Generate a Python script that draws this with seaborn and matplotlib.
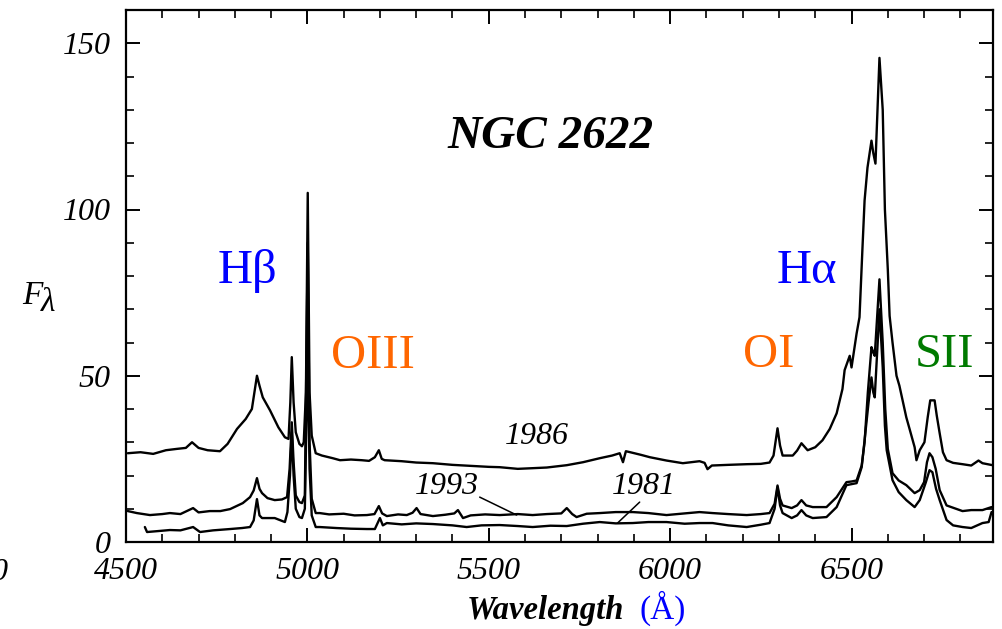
import numpy as np
import pandas as pd
import matplotlib
matplotlib.use("Agg")
import matplotlib.pyplot as plt
import seaborn as sns
from matplotlib.ticker import MultipleLocator

# ---------------- data ----------------
wl_1986 = [4505, 4540, 4575, 4610, 4640, 4665, 4682, 4700, 4725, 4759, 4780, 4806, 4830, 4847,
           4861, 4868, 4877, 4897, 4920, 4938, 4948, 4953, 4957, 4962, 4968, 4978, 4985, 4990,
           4996, 5001, 5006, 5012, 5023, 5040, 5070, 5090, 5120, 5150, 5170, 5186, 5197, 5205,
           5213, 5260, 5300, 5346, 5400, 5450, 5500, 5530, 5580, 5621, 5660, 5715, 5760, 5806,
           5840, 5861, 5870, 5878, 5890, 5920, 5944, 5990, 6035, 6081, 6095, 6103, 6115, 6160,
           6211, 6250, 6274, 6285, 6296, 6303, 6310, 6338, 6350, 6362, 6379, 6400, 6420, 6440,
           6459, 6475, 6481, 6495, 6500, 6514, 6522, 6530, 6536, 6544, 6555, 6560, 6566, 6577,
           6586, 6592, 6600, 6605, 6613, 6624, 6632, 6651, 6660, 6674, 6679, 6688, 6701, 6710,
           6717, 6729, 6735, 6743, 6752, 6762, 6780, 6806, 6830, 6850, 6861, 6889]
fx_1986 = [26.7, 27.0, 26.5, 27.6, 28.0, 28.3, 30.0, 28.3, 27.6, 27.3, 29.5, 34.0, 37.0, 40.0,
           50.0, 47.0, 43.5, 39.6, 34.5, 31.5, 31.0, 42.0, 55.6, 42.0, 33.0, 29.5, 28.8, 30.0,
           45.0, 105.0, 45.0, 32.0, 26.7, 26.0, 25.2, 24.6, 24.8, 24.6, 24.4, 25.5, 27.6, 25.0,
           24.6, 24.3, 23.9, 23.7, 23.2, 22.9, 22.6, 22.5, 22.0, 22.2, 22.4, 23.1, 24.0, 25.2,
           26.0, 26.7, 24.0, 27.3, 27.0, 26.2, 25.5, 24.5, 23.7, 24.3, 23.8, 21.9, 23.0, 23.2,
           23.4, 23.5, 23.9, 26.0, 34.2, 29.0, 26.0, 26.0, 27.5, 29.7, 27.6, 28.5, 30.6, 34.0,
           38.7, 46.0, 51.7, 56.0, 52.5, 62.7, 67.6, 88.0, 102.7, 112.6, 120.7, 117.0, 113.8, 145.6,
           130.0, 100.0, 82.0, 68.0, 60.0, 50.0, 47.0, 37.5, 34.0, 28.5, 24.6, 27.6, 30.0, 37.5,
           42.6, 42.6, 38.0, 32.7, 27.0, 24.6, 23.8, 23.4, 23.0, 24.5, 23.7, 23.1]

wl_1993 = [4505, 4530, 4566, 4600, 4621, 4650, 4685, 4700, 4731, 4760, 4787, 4822, 4842, 4852,
           4861, 4868, 4875, 4890, 4910, 4930, 4944, 4951, 4957, 4962, 4968, 4978, 4985, 4993,
           5001, 5006, 5012, 5023, 5034, 5060, 5100, 5130, 5164, 5185, 5197, 5206, 5219, 5250,
           5274, 5290, 5301, 5312, 5346, 5380, 5405, 5415, 5429, 5450, 5490, 5530, 5580, 5621,
           5660, 5700, 5715, 5730, 5742, 5770, 5806, 5850, 5897, 5940, 5990, 6040, 6081, 6117,
           6160, 6211, 6250, 6274, 6288, 6296, 6303, 6310, 6335, 6350, 6362, 6375, 6393, 6431,
           6459, 6486, 6500, 6514, 6528, 6536, 6545, 6555, 6560, 6564, 6577, 6586, 6593, 6600,
           6613, 6630, 6651, 6674, 6688, 6700, 6708, 6715, 6723, 6732, 6743, 6762, 6806, 6830,
           6861, 6886]
fx_1993 = [9.3, 8.7, 8.1, 8.4, 8.7, 8.4, 10.2, 8.9, 9.3, 9.3, 9.9, 11.7, 13.5, 15.5,
           19.2, 16.0, 14.7, 13.2, 12.6, 12.8, 13.5, 22.0, 36.0, 24.0, 14.0, 12.0, 11.7, 14.0,
           90.0, 30.0, 13.0, 8.7, 8.7, 8.3, 8.5, 8.0, 8.1, 8.4, 10.8, 8.6, 7.8, 8.3,
           8.1, 8.8, 10.2, 8.4, 7.8, 8.2, 8.6, 9.6, 7.2, 8.0, 8.3, 8.1, 8.4, 8.1,
           8.4, 8.6, 10.2, 8.4, 7.5, 8.5, 8.7, 9.0, 9.0, 8.7, 8.1, 8.6, 9.0, 8.7,
           8.4, 8.1, 8.4, 8.7, 11.5, 17.0, 13.0, 11.0, 10.2, 11.0, 12.6, 11.0, 10.5, 10.5,
           13.5, 18.0, 18.2, 18.5, 23.0, 30.0, 45.0, 58.6, 57.0, 56.0, 79.0, 60.0, 40.0, 28.0,
           20.7, 18.5, 17.1, 14.7, 15.6, 18.0, 24.0, 26.7, 25.5, 22.0, 15.6, 11.0, 9.3, 9.6,
           9.6, 10.5]

wl_1981 = [4552, 4558, 4590, 4621, 4650, 4685, 4704, 4740, 4787, 4820, 4842, 4852, 4861, 4868,
           4875, 4910, 4938, 4945, 4952, 4957, 4962, 4968, 4978, 4985, 4993, 5001, 5006, 5012,
           5023, 5034, 5080, 5120, 5164, 5186, 5200, 5208, 5219, 5260, 5300, 5346, 5400, 5439,
           5480, 5530, 5580, 5621, 5670, 5715, 5760, 5806, 5850, 5897, 5940, 5990, 6040, 6081,
           6117, 6160, 6211, 6250, 6274, 6288, 6296, 6303, 6310, 6335, 6350, 6362, 6375, 6393,
           6431, 6459, 6486, 6500, 6514, 6528, 6536, 6547, 6555, 6560, 6564, 6577, 6586, 6592,
           6597, 6613, 6630, 6651, 6674, 6688, 6705, 6715, 6723, 6733, 6743, 6762, 6780, 6806,
           6830, 6861, 6878, 6886]
fx_1981 = [4.5, 3.0, 3.3, 3.6, 3.5, 4.5, 3.0, 3.5, 3.9, 4.2, 4.5, 6.5, 12.9, 8.0,
           7.2, 7.2, 6.0, 9.0, 20.0, 33.0, 20.0, 10.0, 7.5, 7.2, 10.0, 58.0, 22.0, 8.0,
           4.5, 4.5, 4.2, 4.0, 3.9, 3.9, 7.2, 5.0, 5.7, 5.3, 5.6, 5.4, 5.0, 4.5,
           5.0, 5.1, 4.8, 4.5, 4.9, 4.8, 5.5, 6.0, 5.6, 5.7, 6.0, 6.0, 5.5, 5.7,
           5.7, 5.0, 4.5, 5.2, 5.7, 10.0, 16.5, 11.0, 8.7, 7.2, 8.0, 9.6, 8.0, 7.2,
           7.5, 10.5, 17.1, 17.4, 17.7, 22.5, 30.6, 42.0, 49.5, 45.0, 43.5, 70.0, 52.5, 35.0,
           27.6, 18.6, 15.0, 12.6, 10.5, 12.6, 18.0, 21.6, 21.0, 16.0, 12.6, 6.6, 5.0, 4.5,
           4.2, 5.7, 6.0, 9.0]

xticks = [4500, 5000, 5500, 6000, 6500]
xtick_labels = ["4500", "5000", "5500", "6000", "6500"]
yticks = [0, 50, 100, 150]
ytick_labels = ["0", "50", "100", "150"]

line_names = ["Hβ", "OIII", "OI", "Hα", "SII"]
line_wl = [4836, 5180, 6271, 6376, 6756]
line_fx = [77.8, 52.3, 52.5, 77.8, 52.5]
line_colors = ["#0000ff", "#ff6600", "#ff6600", "#0000ff", "#007a00"]

year_names = ["1986", "1993", "1981"]
year_wl = [5632, 5384, 5927]
year_fx = [31.8, 16.8, 16.8]
# leader lines for 1993 and 1981 (from label to spectrum)
lead_1993_wl = [5475, 5577]
lead_1993_fx = [13.5, 8.1]
lead_1981_wl = [5916, 5855]
lead_1981_fx = [12.0, 5.7]

# ---------------- plotting ----------------
sns.set_theme(style="ticks")
plt.rcParams['font.family'] = ['Liberation Serif', 'DejaVu Serif']
plt.rcParams['axes.linewidth'] = 1.6
plt.rcParams['text.color'] = 'black'
plt.rcParams['xtick.color'] = 'black'
plt.rcParams['ytick.color'] = 'black'
plt.rcParams['xtick.labelcolor'] = 'black'
plt.rcParams['ytick.labelcolor'] = 'black'

W, H = 1002, 629
fig = plt.figure(figsize=(W / 100, H / 100), dpi=100)
ax = fig.add_axes([126 / W, 1 - 542 / H, (993 - 126) / W, (542 - 10) / H])
ax.set_facecolor("white")

for wl, fx in [(wl_1986, fx_1986), (wl_1993, fx_1993), (wl_1981, fx_1981)]:
    df = pd.DataFrame({"wl": wl, "flux": fx})
    sns.lineplot(data=df, x="wl", y="flux", ax=ax, color="black", lw=1.7,
                 estimator=None, sort=True)

sns.lineplot(x=lead_1993_wl, y=lead_1993_fx, ax=ax, color="black", lw=1.1, estimator=None)
sns.lineplot(x=lead_1981_wl, y=lead_1981_fx, ax=ax, color="black", lw=1.1, estimator=None)

ax.set_xlim(4500, 6890)
ax.set_ylim(0, 160)
ax.set_xlabel("")
ax.set_ylabel("")

ax.set_xticks(xticks)
ax.set_xticklabels(xtick_labels, fontsize=23, fontstyle="italic", color="black")
ax.set_yticks(yticks)
ax.set_yticklabels(ytick_labels, fontsize=23, fontstyle="italic", color="black")
ax.xaxis.set_minor_locator(MultipleLocator(100))
ax.yaxis.set_minor_locator(MultipleLocator(10))
ax.tick_params(which="major", direction="in", top=True, right=True, length=10, width=1.4,
               pad=11, colors="black")
ax.tick_params(which="minor", direction="in", top=True, right=True, length=6, width=1.2,
               colors="black")
for s in ax.spines.values():
    s.set_color("black")
    s.set_linewidth(1.6)

# labels on spectra
for name, x, y, c in zip(line_names, line_wl, line_fx, line_colors):
    ax.text(x, y, name, color=c, fontsize=35, ha="center", va="baseline")

for name, x, y in zip(year_names, year_wl, year_fx):
    ax.text(x, y, name, fontsize=23, fontstyle="italic", ha="center", va="center",
            color="black")

ax.text(5671, 121.9, "NGC 2622", fontsize=34, fontstyle="italic", fontweight="bold",
        ha="center", va="center", color="black")

# axis labels
fig.text(22 / W, 1 - 304 / H, "F", fontsize=24, fontstyle="italic", ha="left",
         va="baseline", color="black")
fig.text(41 / W, 1 - 311 / H, "λ", fontsize=24, fontstyle="italic", ha="left",
         va="baseline", color="black")
fig.text(545 / W, 1 - 619 / H, "Wavelength", fontsize=23.5, fontstyle="italic",
         fontweight="bold", ha="center", va="baseline", color="black")
fig.text(663 / W, 1 - 619 / H, "(Å)", fontsize=24, color="#0000ff", ha="center", va="baseline")
# clipped tick label fragment at the far left
fig.text(0 / W, 1 - 572 / H, "0", fontsize=23, fontstyle="italic", ha="center", va="center",
         color="black")

fig.savefig("out.png", dpi=100, facecolor="white")
